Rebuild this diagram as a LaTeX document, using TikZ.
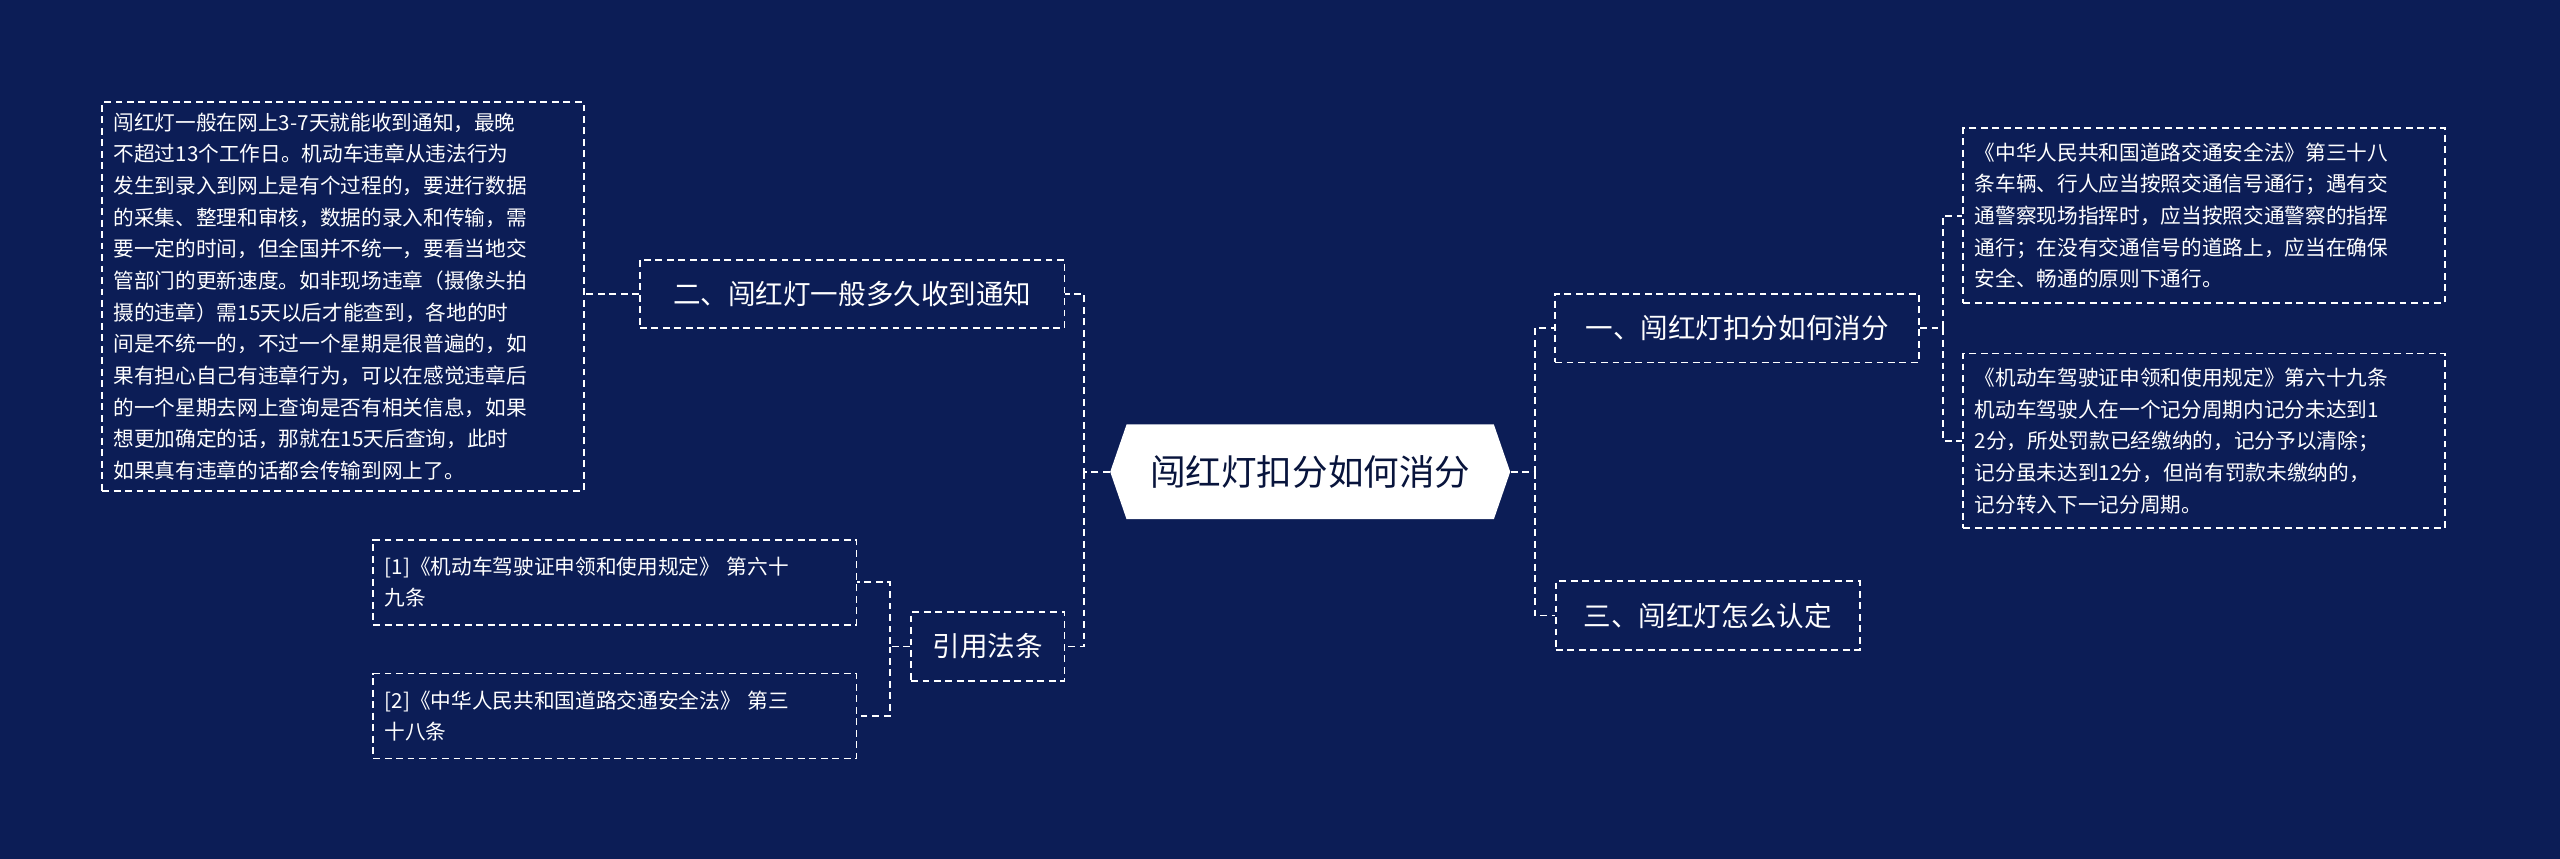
\documentclass[tikz,border=0pt]{standalone}
\usepackage{fontspec}
\setmainfont{Noto Sans CJK SC}
\definecolor{bg}{HTML}{0C1D56}
\begin{document}
\begin{tikzpicture}[x=0.025cm,y=-0.025cm,
  conn/.style={white,line width=0.8pt,dashed,dash pattern=on 3pt off 2pt},
  topic/.style={draw=white,dashed,dash pattern=on 3pt off 2pt,line width=0.8pt,text=white,font=\fontsize{12}{14}\selectfont,inner sep=0pt,minimum height=42*0.025cm},
  leaf/.style={draw=white,dashed,dash pattern=on 3pt off 2pt,line width=0.8pt,text=white,font=\fontsize{9}{13.8}\selectfont,align=left,anchor=north west,inner xsep=5pt,inner ysep=4pt}]
\fill[bg] (0,0) rectangle (1568,526);
\useasboundingbox (0,0) rectangle (1568,526);
\fill[white] (680,289) -- (690,260) -- (915,260) -- (925,289) -- (915,318) -- (690,318) -- cycle;
\node[minimum width=245*0.025cm,minimum height=58*0.025cm,inner sep=0pt,font=\fontsize{15.5}{18}\selectfont,text=bg!70!black] (c) at (802.5,289) {闯红灯扣分如何消分};
\node[topic,minimum width=223*0.025cm] (r1) at (1064,201) {一、闯红灯扣分如何消分};
\node[topic,minimum width=186*0.025cm] (r3) at (1046,377) {三、闯红灯怎么认定};
\node[topic,minimum width=260*0.025cm] (l2) at (522,180) {二、闯红灯一般多久收到通知};
\node[topic,minimum width=94*0.025cm] (l3) at (605,396) {引用法条};
\node[leaf,text width=295*0.025cm-10pt,minimum height=107*0.025cm] (t1) at (1202,78) {《中华人民共和国道路交通安全法》第三十八\\条车辆、行人应当按照交通信号通行；遇有交\\通警察现场指挥时，应当按照交通警察的指挥\\通行；在没有交通信号的道路上，应当在确保\\安全、畅通的原则下通行。};
\node[leaf,text width=295*0.025cm-10pt,minimum height=107*0.025cm] (t2) at (1202,216) {《机动车驾驶证申领和使用规定》第六十九条\\机动车驾驶人在一个记分周期内记分未达到1\\2分，所处罚款已经缴纳的，记分予以清除；\\记分虽未达到12分，但尚有罚款未缴纳的，\\记分转入下一记分周期。};
\node[leaf,text width=295*0.025cm-10pt,minimum height=238*0.025cm] (t0) at (62,62) {闯红灯一般在网上3-7天就能收到通知，最晚\\不超过13个工作日。机动车违章从违法行为\\发生到录入到网上是有个过程的，要进行数据\\的采集、整理和审核，数据的录入和传输，需\\要一定的时间，但全国并不统一，要看当地交\\管部门的更新速度。如非现场违章（摄像头拍\\摄的违章）需15天以后才能查到，各地的时\\间是不统一的，不过一个星期是很普遍的，如\\果有担心自己有违章行为，可以在感觉违章后\\的一个星期去网上查询是否有相关信息，如果\\想更加确定的话，那就在15天后查询，此时\\如果真有违章的话都会传输到网上了。};
\node[leaf,text width=296*0.025cm-10pt,minimum height=52*0.025cm] (f1) at (228,330) {[1]《机动车驾驶证申领和使用规定》 第六十\\九条};
\node[leaf,text width=296*0.025cm-10pt,minimum height=52*0.025cm] (f2) at (228,412) {[2]《中华人民共和国道路交通安全法》 第三\\十八条};
\coordinate (cl) at (664,289); \coordinate (cr) at (940,289);
\draw[conn] (c.west) -- (cl) |- (l2.east);
\draw[conn] (cl) |- (l3.east);
\draw[conn] (c.east) -- (cr) |- (r1.west);
\draw[conn] (cr) |- (r3.west);
\coordinate (rr) at (1190,201);
\draw[conn] (r1.east) -- (rr) |- (t1.west);
\draw[conn] (rr) |- (t2.west);
\draw[conn] (l2.west) -- (t0.east |- l2.west);
\coordinate (ll) at (545,396);
\draw[conn] (l3.west) -- (ll) |- (f1.east);
\draw[conn] (ll) |- (f2.east);
\end{tikzpicture}
\end{document}
